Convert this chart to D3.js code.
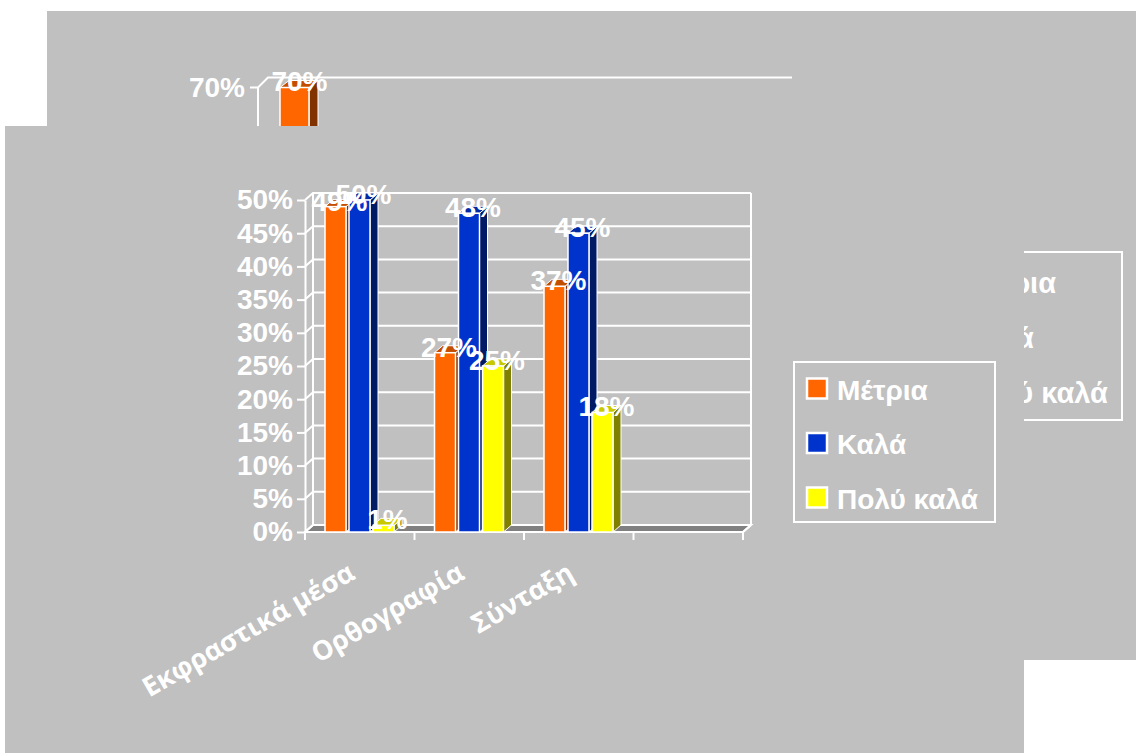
<!DOCTYPE html>
<html>
<head>
<meta charset="utf-8">
<script src="https://cdn.jsdelivr.net/npm/d3@7/dist/d3.min.js"></script>
<style>
  body { margin: 0; background: #fff; }
  text { font-family: "Liberation Sans", Arial, sans-serif; font-weight: bold; fill: #fff; }
</style>
</head>
<body>
<div id="chart"></div>
<script>
// Data of the front chart (the fourth category slot is empty in the source)
const categories = ["Εκφραστικά μέσα", "Ορθογραφία", "Σύνταξη", ""];
const seriesNames = ["Μέτρια", "Καλά", "Πολύ καλά"];
const metria   = [0.49, 0.27, 0.37];
const kala     = [0.50, 0.48, 0.45];
const polyKala = [0.01, 0.25, 0.18];
const yTicks = [0, 0.05, 0.10, 0.15, 0.20, 0.25, 0.30, 0.35, 0.40, 0.45, 0.50];

// Data of the chart hidden behind (only its top part shows)
const backTicks = [0.6, 0.7];
const backValues = [0.70];

const faceColor = ["#FF6600", "#0033CC", "#FFFF00"];
const sideColor = ["#8A3300", "#001A66", "#808000"];
const topColor  = ["#C44E00", "#0029A3", "#C8C800"];

const W = 1136, H = 753;
const svg = d3.select("#chart").append("svg")
    .attr("width", W).attr("height", H);

const fmt = d3.format(".0%");

// ---------- back panel ----------
svg.append("rect").attr("x", 47).attr("y", 11).attr("width", W - 47).attr("height", 649).attr("fill", "#C0C0C0");

const back = svg.append("g");
const yb = d3.scaleLinear().domain([0, 0.7]).range([444, 87.5]);
const xb = d3.scaleBand().domain(["a", "b", "c", "d"]).range([258, 790]);
const bdx = 10, bdy = 10;

back.append("line").attr("x1", 258).attr("x2", 258).attr("y1", yb(0.7)).attr("y2", 440)
    .attr("stroke", "#fff").attr("stroke-width", 2);
back.selectAll(".btick").data(backTicks).enter().append("path")
    .attr("d", d => `M250,${yb(d)}H258L${258 + bdx},${yb(d) - bdy}H792`)
    .attr("fill", "none").attr("stroke", "#fff").attr("stroke-width", 2);
back.selectAll(".blab").data(backTicks).enter().append("text")
    .attr("x", 245).attr("y", d => yb(d)).attr("dy", "0.35em")
    .attr("text-anchor", "end").attr("font-size", 28).text(d => fmt(d));

backValues.forEach((v, i) => {
    const x = xb(["a", "b", "c", "d"][i]) + 22, w = 29, top = yb(v);
    back.append("path").attr("d", `M${x + w},${top}l${bdx - 1},${-7}V440h${-(bdx - 1)}Z`)
        .attr("fill", "#803300").attr("stroke", "#fff").attr("stroke-width", 1);
    back.append("path").attr("d", `M${x},${top}l${bdx - 1},${-7}h${w}l${-(bdx - 1)},7Z`)
        .attr("fill", "#C44E00").attr("stroke", "#fff").attr("stroke-width", 1);
    back.append("rect").attr("x", x).attr("y", top).attr("width", w).attr("height", 440 - top)
        .attr("fill", faceColor[0]).attr("stroke", "#fff").attr("stroke-width", 1.5);
    back.append("text").attr("x", x + w / 2 + 5).attr("y", top + 3)
        .attr("text-anchor", "middle").attr("font-size", 28).text(fmt(v));
});

// back legend
back.append("rect").attr("x", 921).attr("y", 252).attr("width", 201).attr("height", 168)
    .attr("fill", "none").attr("stroke", "#fff").attr("stroke-width", 2);
seriesNames.forEach((s, i) => {
    const cy = 282 + i * 55;
    back.append("rect").attr("x", 933).attr("y", cy - 10).attr("width", 20).attr("height", 20)
        .attr("fill", faceColor[i]).attr("stroke", "#fff").attr("stroke-width", 2.5);
    back.append("text").attr("x", 962).attr("y", cy + 11).attr("font-size", 29).text(s);
});

// ---------- front panel ----------
svg.append("rect").attr("x", 5).attr("y", 126).attr("width", 1019).attr("height", H - 126).attr("fill", "#C0C0C0");

const g = svg.append("g");
const dx = 8, dy = 7;
const x0 = d3.scaleBand().domain(categories).range([305, 743]);
const x1 = d3.scaleBand().domain(seriesNames).range([20, 89]).paddingInner(0.125);
const y = d3.scaleLinear().domain([0, 0.5]).range([532, 200]);
const x0L = x0.range()[0], x0R = x0.range()[1];

// floor
g.append("path")
    .attr("d", `M${x0L},${y(0)}H${x0R}l${dx},${-dy}H${x0L + dx}Z`)
    .attr("fill", "#808080").attr("stroke", "#fff").attr("stroke-width", 2);

// back wall gridlines with their short depth segments
g.selectAll(".grid").data(yTicks).enter().append("path")
    .attr("d", d => `M${x0L},${y(d)}l${dx},${-dy}H${x0R + dx}`)
    .attr("fill", "none").attr("stroke", "#fff").attr("stroke-width", 2);
g.append("line").attr("x1", x0L + dx).attr("x2", x0L + dx).attr("y1", y(0.5) - dy).attr("y2", y(0) - dy)
    .attr("stroke", "#fff").attr("stroke-width", 2);
g.append("line").attr("x1", x0R + dx).attr("x2", x0R + dx).attr("y1", y(0.5) - dy).attr("y2", y(0) - dy)
    .attr("stroke", "#fff").attr("stroke-width", 2);

// y axis
const yAxis = g.append("g")
    .attr("transform", `translate(${x0L},0)`)
    .call(d3.axisLeft(y).tickValues(yTicks).tickFormat(fmt).tickSize(8).tickSizeOuter(0).tickPadding(4));
yAxis.select(".domain").attr("stroke", "#fff").attr("stroke-width", 2);
yAxis.selectAll(".tick line").attr("stroke", "#fff").attr("stroke-width", 2);
yAxis.selectAll(".tick text").attr("fill", "#fff").attr("font-size", 28)
    .attr("font-family", "Liberation Sans, Arial, sans-serif").attr("font-weight", "bold");
yAxis.attr("font-size", null).attr("font-family", null);

// category ticks on the x axis
const edges = categories.map(c => x0(c)).concat([x0R]);
g.selectAll(".xtick").data(edges).enter().append("line")
    .attr("x1", d => d).attr("x2", d => d).attr("y1", y(0)).attr("y2", y(0) + 8)
    .attr("stroke", "#fff").attr("stroke-width", 2);
g.append("line").attr("x1", x0L).attr("x2", x0R).attr("y1", y(0)).attr("y2", y(0))
    .attr("stroke", "#fff").attr("stroke-width", 2);
g.append("line").attr("x1", x0R).attr("x2", x0R + dx).attr("y1", y(0)).attr("y2", y(0) - dy)
    .attr("stroke", "#fff").attr("stroke-width", 2);

// bars
const seriesValues = [metria, kala, polyKala];
const bw = x1.bandwidth();
categories.slice(0, 3).forEach((c, ci) => {
    seriesNames.forEach((s, si) => {
        const v = seriesValues[si][ci];
        const bx = x0(c) + x1(s), top = y(v), bottom = y(0);
        g.append("path")
            .attr("d", `M${bx + bw},${bottom}V${top}l${dx},${-dy}V${bottom - dy}Z`)
            .attr("fill", sideColor[si]).attr("stroke", "#fff").attr("stroke-width", 1);
        g.append("path")
            .attr("d", `M${bx},${top}l${dx},${-dy}h${bw}l${-dx},${dy}Z`)
            .attr("fill", topColor[si]).attr("stroke", "#fff").attr("stroke-width", 1);
        g.append("rect").attr("x", bx).attr("y", top).attr("width", bw).attr("height", bottom - top)
            .attr("fill", faceColor[si]).attr("stroke", "#fff").attr("stroke-width", 1.5);
    });
});

// value labels
categories.slice(0, 3).forEach((c, ci) => {
    seriesNames.forEach((s, si) => {
        const v = seriesValues[si][ci];
        g.append("text")
            .attr("x", x0(c) + x1(s) + bw / 2 + dx / 2)
            .attr("y", y(v) + 4)
            .attr("text-anchor", "middle").attr("font-size", 28)
            .text(fmt(v));
    });
});

// category labels
g.selectAll(".cat").data(categories).enter().append("text")
    .attr("transform", d => `translate(${x0(d) + x0.bandwidth() / 2 - 3},578) rotate(-30)`)
    .attr("text-anchor", "end")
    .style("font-family", "'Open Sans', sans-serif").style("font-weight", 700)
    .attr("font-size", 27)
    .text(d => d);

// legend
const legend = g.append("g");
legend.append("rect").attr("x", 794).attr("y", 362).attr("width", 201).attr("height", 160)
    .attr("fill", "none").attr("stroke", "#fff").attr("stroke-width", 2);
seriesNames.forEach((s, i) => {
    const cy = 388.5 + i * 54.5;
    legend.append("rect").attr("x", 807).attr("y", cy - 10).attr("width", 20).attr("height", 20)
        .attr("fill", faceColor[i]).attr("stroke", "#fff").attr("stroke-width", 2.5);
    legend.append("text").attr("x", 837).attr("y", cy + 11).attr("font-size", 28).text(s);
});
</script>
</body>
</html>
